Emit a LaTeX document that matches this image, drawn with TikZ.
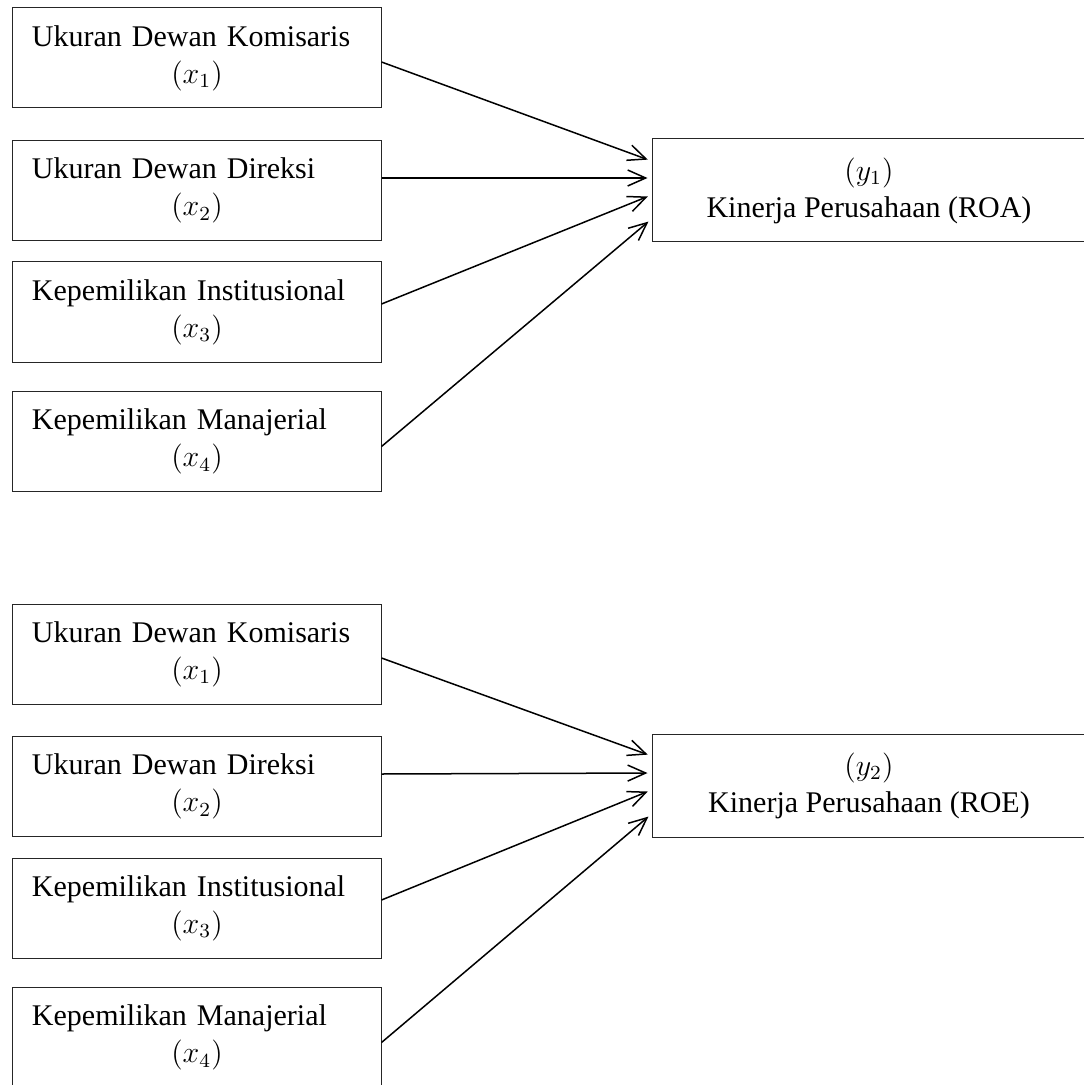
\documentclass[tikz,border=0pt]{standalone}
\usepackage{fontspec}
\setmainfont{Liberation Serif}
\usepackage{amsmath}
\usetikzlibrary{arrows.meta}
\tikzset{
    normal/.style={draw=black!85, thin},
    ind/.style={style=normal, text width=132pt, inner xsep=7.6pt, inner ysep=0pt, minimum height=40pt, align=left, font=\fontsize{12}{14.8}\selectfont}, % independent variables
    dep/.style={style=normal, minimum width=173.6pt, minimum height=41.2pt, inner sep=0pt, align=center, font=\fontsize{12}{14.8}\selectfont}, % dependent variable
    e/.style={draw, ->, >={Straight Barb[length=7.2pt, width=6.4pt]}, semithick, shorten >=1.6pt}
}

\begin{document}
\begin{tikzpicture}[x=0.4pt, y=-0.4pt]
        \useasboundingbox (0, 0) rectangle (1084, 1085);

        % ROA
        \node[ind] (KomA) at (197, 58)
        {Ukuran Dewan Komisaris\\ \makebox[\hsize]{$(x_1)$}};
        \node[ind] (DirA) at (197, 190.5)
        {Ukuran Dewan Direksi\\ \makebox[\hsize]{$(x_2)$}};
        \node[ind] (InsA) at (197, 312)
        {Kepemilikan Institusional\\ \makebox[\hsize]{$(x_3)$}};
        \node[ind] (ManA) at (197, 441.5)
        {Kepemilikan Manajerial\\ \makebox[\hsize]{$(x_4)$}};
        \node[dep] (ROA) at (869, 190.5)
        {$(y_1)$\\ Kinerja Perusahaan (ROA)};

        \path
        ([yshift=-1.6pt]KomA.east) edge[e] ([yshift=11.8pt]ROA.west)
        ([yshift=5pt]DirA.east) edge[e] ([yshift=5pt]ROA.west)
        ([yshift=3.2pt]InsA.east) edge[e] ([yshift=-1.8pt]ROA.west)
        ([yshift=-2pt]ManA.east) edge[e] ([yshift=-11.4pt]ROA.west);

        % ROE
        \node[ind] (KomE) at (197, 654)
        {Ukuran Dewan Komisaris\\ \makebox[\hsize]{$(x_1)$}};
        \node[ind] (DirE) at (197, 786.5)
        {Ukuran Dewan Direksi\\ \makebox[\hsize]{$(x_2)$}};
        \node[ind] (InsE) at (197, 908)
        {Kepemilikan Institusional\\ \makebox[\hsize]{$(x_3)$}};
        \node[ind] (ManE) at (197, 1037.5)
        {Kepemilikan Manajerial\\ \makebox[\hsize]{$(x_4)$}};
        \node[dep] (ROE) at (869, 785.5)
        {$(y_2)$\\ Kinerja Perusahaan (ROE)};

        \path
        ([yshift=-1.6pt]KomE.east) edge[e] ([yshift=11.8pt]ROE.west)
        ([yshift=5pt]DirE.east) edge[e] ([yshift=5pt]ROE.west)
        ([yshift=3.2pt]InsE.east) edge[e] ([yshift=-1.8pt]ROE.west)
        ([yshift=-2pt]ManE.east) edge[e] ([yshift=-11.4pt]ROE.west);
      \end{tikzpicture}
\end{document}
